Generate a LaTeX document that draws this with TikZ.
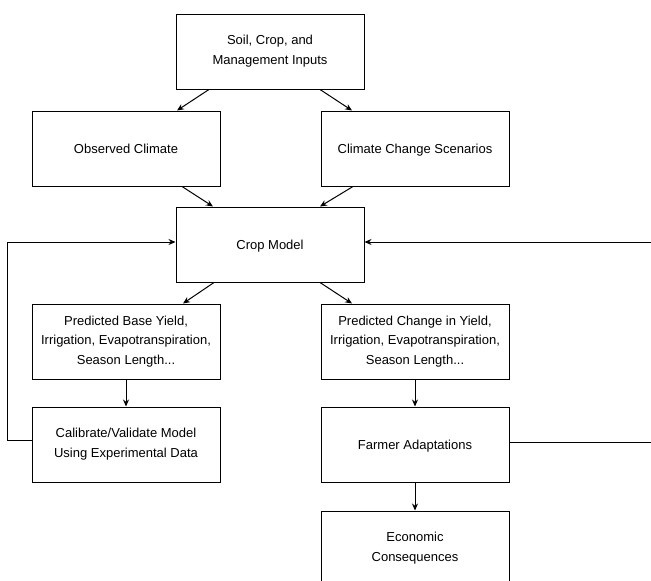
\documentclass[tikz,border=0pt]{standalone}
\usepackage{fontspec}
\setmainfont{Liberation Sans}
\usetikzlibrary{arrows.meta,calc}
\tikzset{
  box/.style={draw, line width=1pt, rectangle, minimum width=188pt, minimum height=75pt, align=center, inner sep=2pt, font=\fontsize{13}{19.5}\selectfont,
    execute at begin node={\rule{0pt}{12.5pt}}, execute at end node={\rule[-3pt]{0pt}{3pt}}},
  arr/.style={draw, line width=1pt, -{Stealth[length=7pt,width=6pt]}}
}
\begin{document}
\begin{tikzpicture}[x=1pt,y=-1pt]
\useasboundingbox (0,0) rectangle (651,581);
\clip (0,0) rectangle (651,581);
\fill[white] (0,0) rectangle (651,581);
\node[box] (top) at (270,51.5) {Soil, Crop, and\\Management Inputs};
\node[box] (obs) at (126,148.5) {Observed Climate};
\node[box] (ccs) at (415,148.5) {Climate Change Scenarios};
\node[box] (crop) at (270,244.5) {Crop Model};
\node[box] (pby) at (126,341.5) {Predicted Base Yield,\\Irrigation, Evapotranspiration,\\Season Length...};
\node[box] (pcy) at (415,341.5) {Predicted Change in Yield,\\Irrigation, Evapotranspiration,\\Season Length...};
\node[box] (cal) at (126,444.5) {Calibrate/Validate Model\\Using Experimental Data};
\node[box] (farm) at (415,444.5) {Farmer Adaptations};
\node[box] (econ) at (415,548.5) {Economic\\Consequences};
\draw[arr] ([xshift=-61pt]top.south) -- ([xshift=51pt]obs.north);
\draw[arr] ([xshift=50pt]top.south) -- ([xshift=-63pt]ccs.north);
\draw[arr] ([xshift=56pt]obs.south) -- ([xshift=-57pt]crop.north);
\draw[arr] ([xshift=-62pt]ccs.south) -- ([xshift=50pt]crop.north);
\draw[arr] ([xshift=-56pt]crop.south) -- ([xshift=57pt]pby.north);
\draw[arr] ([xshift=50pt]crop.south) -- ([xshift=-63pt]pcy.north);
\draw[arr] (pby) -- (cal);
\draw[arr] (pcy) -- (farm);
\draw[arr] (farm) -- (econ);
\draw[arr] ([yshift=4pt]cal.west) -- ++(-24,0) |- ([yshift=2.5pt]crop.west);
\draw[arr] ([yshift=2.5pt]farm.east) -- ++(150,0) |- ([yshift=2.5pt]crop.east);
\end{tikzpicture}
\end{document}
